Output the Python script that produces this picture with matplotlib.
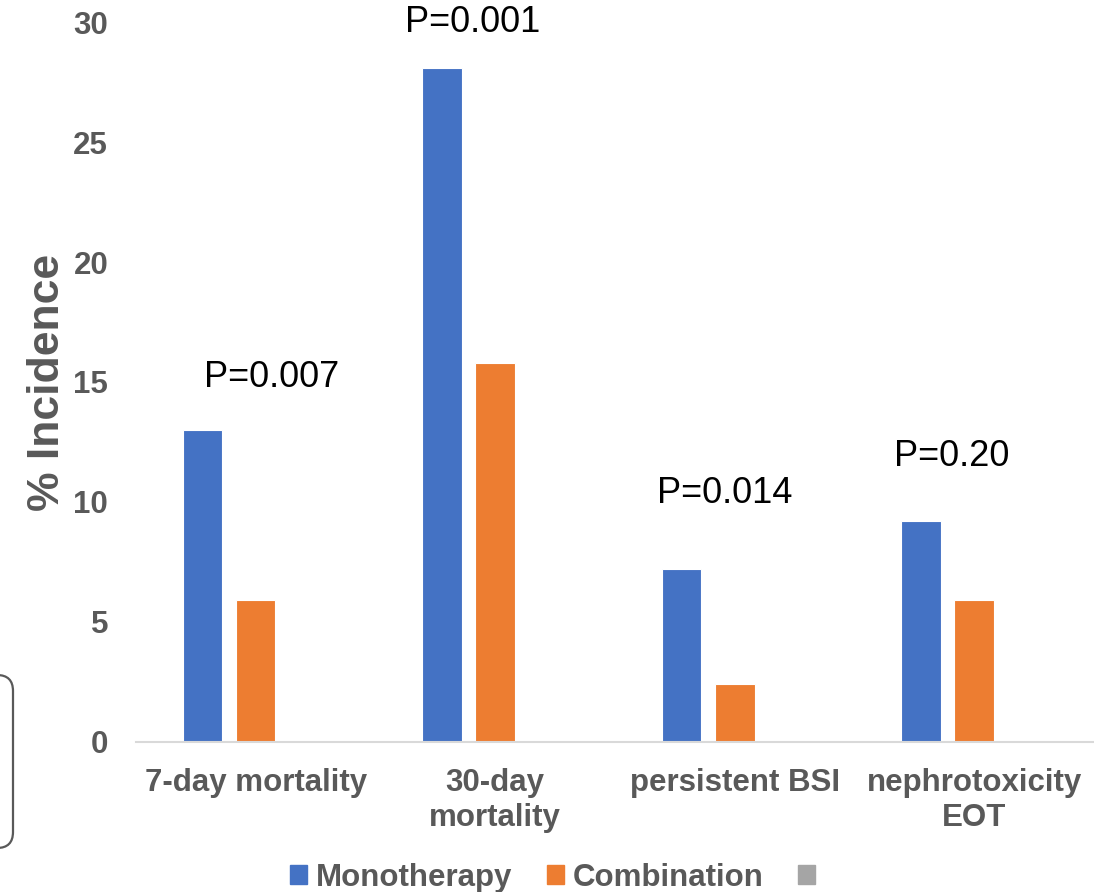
import numpy as np
import matplotlib
matplotlib.use("Agg")
import matplotlib.pyplot as plt
from matplotlib.patches import FancyBboxPatch, Patch
from matplotlib.transforms import IdentityTransform

# data
categories = ["7-day mortality", "30-day\nmortality", "persistent BSI", "nephrotoxicity\nEOT"]
monotherapy = [13.0, 28.1, 7.2, 9.2]
combination = [5.9, 15.8, 2.4, 5.9]
p_labels = ["P=0.007", "P=0.001", "P=0.014", "P=0.20"]

# where the p-value boxes sit (x offset from group, y in data units)
p_x_offset = [0.065, -0.094, -0.044, -0.094]
p_y = [15.2, 30.0, 10.35, 11.9]

plt.rcParams['font.family'] = ['Liberation Sans', 'DejaVu Sans']
grey_txt = "#595959"
blue = "#4472C4"
orange = "#ED7D31"

fig = plt.figure(figsize=(10.94, 8.92), dpi=100)
ax = fig.add_axes([0.1243, 0.1682, 0.8757, 0.8071])

x = np.arange(len(categories))
off = 0.222
w = 0.165
ax.bar(x - off, monotherapy, w, color=blue, edgecolor="white", linewidth=0.8)
ax.bar(x, combination, w, color=orange, edgecolor="white", linewidth=0.8)

ax.set_xlim(-0.5, len(categories) - 0.5)
ax.set_ylim(0, 30)
ax.set_yticks(np.arange(0, 31, 5))
ax.set_xticks(x)
ax.set_xticklabels(categories, fontsize=22.5, fontweight="bold", color=grey_txt,
                   linespacing=1.2)
ax.tick_params(axis="y", length=0, pad=20, labelsize=22.5, labelcolor=grey_txt)
ax.tick_params(axis="x", length=0, pad=19)
for lab in ax.get_yticklabels():
    lab.set_fontweight("bold")

for s in ["top", "right", "left"]:
    ax.spines[s].set_visible(False)
ax.spines["bottom"].set_color("#d9d9d9")
ax.spines["bottom"].set_linewidth(1.5)

ax.set_ylabel("% Incidence", fontsize=32, fontweight="bold", color=grey_txt, labelpad=4)

for i, lab in enumerate(p_labels):
    ax.text(x[i] + p_x_offset[i], p_y[i], lab, fontsize=26, color="black",
            ha="center", va="center", clip_on=False)

handles = [Patch(color=blue), Patch(color=orange), Patch(color="#A5A5A5")]
leg = fig.legend(handles, ["Monotherapy", "Combination", ""], loc="center",
                 bbox_to_anchor=(0.509, 0.016), ncol=3, frameon=False,
                 handlelength=0.55, handleheight=0.55, handletextpad=0.26,
                 columnspacing=1.12,
                 prop={"size": 22.5, "weight": "bold"})
for t in leg.get_texts():
    t.set_color(grey_txt)

# partial rounded box on the left edge
box = FancyBboxPatch((-40, 44), 53, 173, boxstyle="round,pad=0,rounding_size=16",
                     transform=IdentityTransform(), fill=False,
                     edgecolor="#595959", linewidth=1.6)
fig.patches.append(box)

fig.savefig("out.png", dpi=100)
